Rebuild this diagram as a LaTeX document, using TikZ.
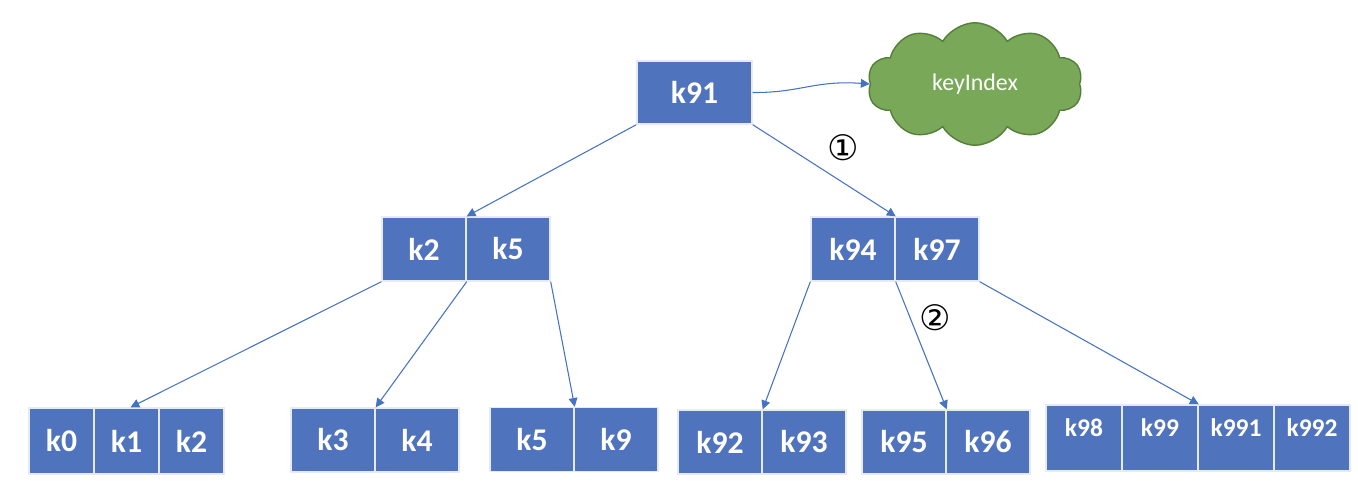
\documentclass[tikz,border=0pt]{standalone}
\usepackage{fontspec}
\setmainfont{Carlito}
\newfontfamily\circfont{DejaVu Sans}
\usepackage{tikz}
\usetikzlibrary{shapes.symbols,arrows.meta}
\definecolor{keyblue}{HTML}{4F73BD}
\definecolor{linkblue}{HTML}{4472C4}
\definecolor{cloudgreen}{HTML}{78A858}
\definecolor{cloudedge}{HTML}{547F3A}
\tikzset{
  cell/.style={rectangle,fill=keyblue,draw=white!85!keyblue,line width=0.8pt,inner sep=0pt,
    text=white,font=\bfseries\fontsize{18}{20}\selectfont,minimum width=1.68cm,minimum height=1.28cm},
  leaf/.style={cell,minimum width=1.3cm,minimum height=1.32cm},
  wide/.style={cell,minimum width=1.52cm,minimum height=1.32cm,text depth=0.4cm,
    font=\bfseries\fontsize{14.5}{16}\selectfont},
  link/.style={draw=linkblue,line width=0.6pt,-{Triangle[length=5pt,width=5pt]}},
  mark label/.style={font=\circfont\fontsize{20}{22}\selectfont,inner sep=0pt}
}

\begin{document}
\begin{tikzpicture}[x=0.02cm,y=-0.02cm]
\useasboundingbox (0,0) rectangle (1358,480);

\node[cell,minimum width=2.3cm,minimum height=1.26cm] (r91) at (694.5,92.5) {k91};
\node[cloud,cloud puffs=10,cloud puff arc=120,aspect=1.75,fill=cloudgreen,draw=cloudedge,line width=0.8pt,
  minimum width=4.3cm,minimum height=2.45cm,text=white,font=\fontsize{13.6}{15}\selectfont] (idx) at (975,84) {keyIndex};

\node[cell] (m2) at (424,249) {k2};
\node[cell] (m5) at (508,249) {k5};
\node[cell] (m94) at (853,249) {k94};
\node[cell] (m97) at (937,249) {k97};

\node[leaf] (l0) at (61.5,441) {k0};
\node[leaf] (l1) at (126.5,441) {k1};
\node[leaf] (l2) at (191.5,441) {k2};
\node[cell] (l3) at (333,440) {k3};
\node[cell] (l4) at (417,440) {k4};
\node[cell] (l5) at (532,439.5) {k5};
\node[cell] (l9) at (616,439.5) {k9};
\node[cell] (l92) at (720,442) {k92};
\node[cell] (l93) at (804,442) {k93};
\node[cell] (l95) at (904,442) {k95};
\node[cell] (l96) at (988,442) {k96};
\node[wide] (l98) at (1084,438) {k98};
\node[wide] (l99) at (1160,438) {k99};
\node[wide] (l991) at (1236,438) {k991};
\node[wide] (l992) at (1312,438) {k992};

\node[mark label] (n1) at (843,148) {①};
\node[mark label] (n2) at (935,318) {②};

\draw[link] (r91.east) .. controls (800,93) and (815,80) .. (idx.west);
\draw[link] (r91.south west) -- (m2.north east);
\draw[link] (r91.south east) -- (m94.north east);
\draw[link] (m2.south west) -- ([xshift=0.08cm]l1.north);
\draw[link] (m2.south east) -- (l3.north east);
\draw[link] (m5.south east) -- (l5.north east);
\draw[link] (m94.south west) -- (l92.north east);
\draw[link] (m94.south east) -- (l95.north east);
\draw[link] (m97.south east) -- (l99.north east);

\end{tikzpicture}
\end{document}
